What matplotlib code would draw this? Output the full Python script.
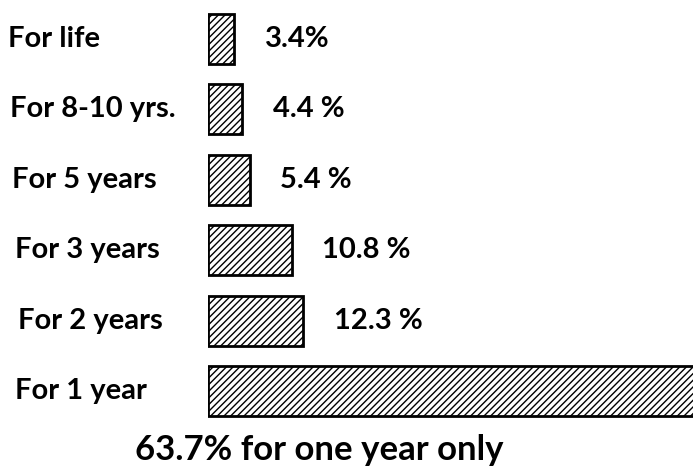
import matplotlib
matplotlib.use("Agg")
import matplotlib.pyplot as plt
from matplotlib.transforms import blended_transform_factory

categories = ["For life", "For 8-10 yrs.", "For 5 years", "For 3 years", "For 2 years", "For 1 year"]
values = [3.4, 4.4, 5.4, 10.8, 12.3, 63.7]
value_labels = ["3.4%", "4.4 %", "5.4 %", "10.8 %", "12.3 %", ""]
caption = "63.7% for one year only"

plt.rcParams['font.family'] = ['Lato', 'DejaVu Sans']
plt.rcParams['hatch.linewidth'] = 1.0

fig = plt.figure(figsize=(6.93, 4.75), dpi=100)
fig.patch.set_facecolor('white')
ax = fig.add_axes([208/693, 0, 1 - 208/693, 1])
ax.set_xlim(0, 62.7)
ax.set_ylim(6.19, -0.554)
ax.axis('off')

ypos = list(range(len(categories)))
bars = ax.barh(ypos, values, height=0.71, color='white', edgecolor='black',
               linewidth=2.0, hatch='/////', clip_on=True)

for y, v, lab in zip(ypos, values, value_labels):
    if lab:
        ax.annotate(lab, xy=(v, y), xytext=(22, 0), textcoords='offset points',
                    va='center', ha='left', fontsize=21, fontweight='bold')

trans = blended_transform_factory(fig.transFigure, ax.transData)
label_x = [8, 10, 12, 15, 18, 15]
for y, lab, lx in zip(ypos, categories, label_x):
    fig.text(lx/693, y, lab, transform=trans, va='center', ha='left',
             fontsize=21, fontweight='bold')

fig.text(319/693, 1 - 450/475, caption, ha='center', va='center',
         fontsize=25, fontweight='bold')

fig.savefig("out.png", dpi=100, facecolor='white')
